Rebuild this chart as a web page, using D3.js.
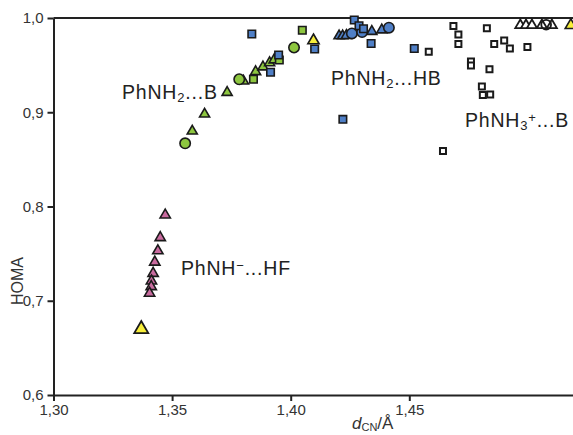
<!DOCTYPE html>
<html>
<head>
<meta charset="utf-8">
<script src="https://cdn.jsdelivr.net/npm/d3@7"></script>
<style>
  html, body { margin: 0; padding: 0; background: #fff; }
  svg { display: block; font-family: "Liberation Sans", Arial, sans-serif; }
</style>
</head>
<body>
<svg id="chart" width="573" height="435"></svg>
<script>
// HOMA aromaticity index against C–N bond length for the aniline complexes.
// Each series: [d_CN (Å), HOMA]

// PhNH2...B complexes (green)
const greenTriangles = [[1.3732,0.921],[1.3637,0.898],[1.3585,0.880],[1.3801,0.933],[1.3852,0.943],[1.3883,0.948],[1.3911,0.9525],[1.3930,0.9555]];
const greenCircles = [[1.3555,0.867],[1.3783,0.935],[1.4014,0.9687]];
const greenSquares = [[1.3843,0.935],[1.4049,0.987],[1.3952,0.9555]];

// PhNH2...HB complexes (blue)
const blueSquares = [[1.3836,0.983],[1.3915,0.9424],[1.3949,0.9607],[1.4101,0.9671],[1.4268,0.9979],[1.4288,0.9918],[1.4307,0.9886],[1.4339,0.9729],[1.4521,0.9676],[1.4220,0.8925]];
const blueTriangles = [[1.4204,0.981],[1.4219,0.981],[1.4235,0.9814],[1.4342,0.9857],[1.4384,0.9873]];
const blueCircles = [[1.4258,0.9836],[1.4301,0.9851],[1.4414,0.9897]];

// PhNH-...HF complexes (pink)
const pinkTriangles = [[1.3471,0.791],[1.3450,0.767],[1.3440,0.753],[1.3427,0.741],[1.3420,0.729],[1.3413,0.721],[1.3412,0.715],[1.3405,0.708]];

// isolated molecules (yellow)
const yellowTriangles = [[1.3370,0.670],[1.4096,0.9761],[1.5181,0.9923]];

// PhNH3+...B complexes (white)
const whiteSquares = [[1.4582,0.9642],[1.4686,0.9915],[1.4707,0.9825],[1.4707,0.9724],[1.4827,0.9892],[1.4858,0.9724],[1.4900,0.9761],[1.4924,0.9676],[1.4998,0.9692],[1.4760,0.9538],[1.4760,0.9496],[1.4838,0.9456],[1.4806,0.9273],[1.4810,0.9183],[1.4841,0.9188],[1.4642,0.8589]];
const whiteTriangles = [[1.4968,0.9923],[1.4992,0.9923],[1.5017,0.9923],[1.5059,0.9923],[1.5101,0.9923]];
const whiteCircles = [[1.5077,0.9929]];

const xTicks = [1.30, 1.35, 1.40, 1.45];
const yTicks = [0.6, 0.7, 0.8, 0.9, 1.0];

const svg = d3.select("#chart");
const x = d3.scaleLinear().domain([1.30, 1.55]).range([53.5, 646.5]);
const y = d3.scaleLinear().domain([0.6, 1.0]).range([395, 18]);
const fmt = v => d3.format(".2f")(v).replace(".", ",");
const fmtY = v => d3.format(".1f")(v).replace(".", ",");

// frame line along the top of the plot
svg.append("line")
  .attr("x1", x(1.30)).attr("x2", 573)
  .attr("y1", y(1.0)).attr("y2", y(1.0))
  .attr("stroke", "#222").attr("stroke-width", 2);

const xAxis = svg.append("g")
  .attr("transform", `translate(0,${y(0.6)})`)
  .call(d3.axisBottom(x).tickValues(xTicks).tickFormat(fmt).tickSize(6).tickPadding(3).tickSizeOuter(0));
const yAxis = svg.append("g")
  .attr("transform", `translate(${x(1.30)},0)`)
  .call(d3.axisLeft(y).tickValues(yTicks).tickFormat(fmtY).tickSize(6).tickPadding(4).tickSizeOuter(0));

[xAxis, yAxis].forEach(g => {
  g.select(".domain").attr("stroke", "#222").attr("stroke-width", 2);
  g.selectAll(".tick line").attr("stroke", "#222").attr("stroke-width", 2);
  g.selectAll(".tick text").attr("fill", "#333").style("font-size", "15px")
    .style("font-family", "'Liberation Sans', Arial, sans-serif");
});

// axis titles
svg.append("text")
  .attr("transform", `translate(23,281) rotate(-90)`)
  .attr("text-anchor", "middle")
  .attr("fill", "#333").style("font-size", "16px")
  .text("HOMA");

const xl = svg.append("text").attr("x", 352).attr("y", 429).attr("fill", "#333").style("font-size", "17px");
xl.append("tspan").style("font-style", "italic").text("d");
xl.append("tspan").attr("baseline-shift", "-20%").style("font-size", "11px").text("CN");
xl.append("tspan").text("/Å");

// markers
const colors = { green: "#8dc63f", blue: "#4f7fc6", pink: "#c96b9f", yellow: "#f7ee3a", white: "#ffffff" };
function draw(data, type, size, fill, sw) {
  svg.append("g").selectAll("path").data(data).join("path")
    .attr("transform", d => `translate(${x(d[0])},${y(d[1])})`)
    .attr("d", d3.symbol().type(type).size(size))
    .attr("fill", fill)
    .attr("stroke", "#1a1a1a")
    .attr("stroke-width", sw);
}
draw(whiteSquares, d3.symbolSquare, 36, colors.white, 2);
draw(whiteTriangles, d3.symbolTriangle, 44, colors.white, 1.8);
draw(whiteCircles, d3.symbolCircle, 75, "none", 1.8);
draw(pinkTriangles, d3.symbolTriangle, 46, colors.pink, 1.6);
draw(greenTriangles, d3.symbolTriangle, 44, colors.green, 1.6);
draw(greenSquares, d3.symbolSquare, 56, colors.green, 1.6);
draw(greenCircles, d3.symbolCircle, 85, colors.green, 1.6);
draw(blueTriangles, d3.symbolTriangle, 44, colors.blue, 1.6);
draw(blueCircles, d3.symbolCircle, 85, colors.blue, 1.6);
draw(blueSquares, d3.symbolSquare, 56, colors.blue, 1.6);
draw(yellowTriangles.slice(1), d3.symbolTriangle, 55, colors.yellow, 1.6);
draw(yellowTriangles.slice(0, 1), d3.symbolTriangle, 85, colors.yellow, 1.8);

// series labels
function label(xp, yp, parts) {
  const t = svg.append("text").attr("x", xp).attr("y", yp).attr("fill", "#222")
    .style("font-size", "19.5px").style("letter-spacing", "0.8px");
  parts.forEach(p => {
    const s = t.append("tspan").text(p.t);
    if (p.sub) s.attr("baseline-shift", "-22%").style("font-size", "13px");
    if (p.sup) s.attr("baseline-shift", "38%").style("font-size", "13px");
  });
}
label(122, 99, [{t: "PhNH"}, {t: "2", sub: true}, {t: "...B"}]);
label(331, 85, [{t: "PhNH"}, {t: "2", sub: true}, {t: "...HB"}]);
label(465, 127, [{t: "PhNH"}, {t: "3", sub: true}, {t: "+", sup: true}, {t: "...B"}]);
label(181, 275, [{t: "PhNH"}, {t: "−", sup: true}, {t: "...HF"}]);
</script>
</body>
</html>
